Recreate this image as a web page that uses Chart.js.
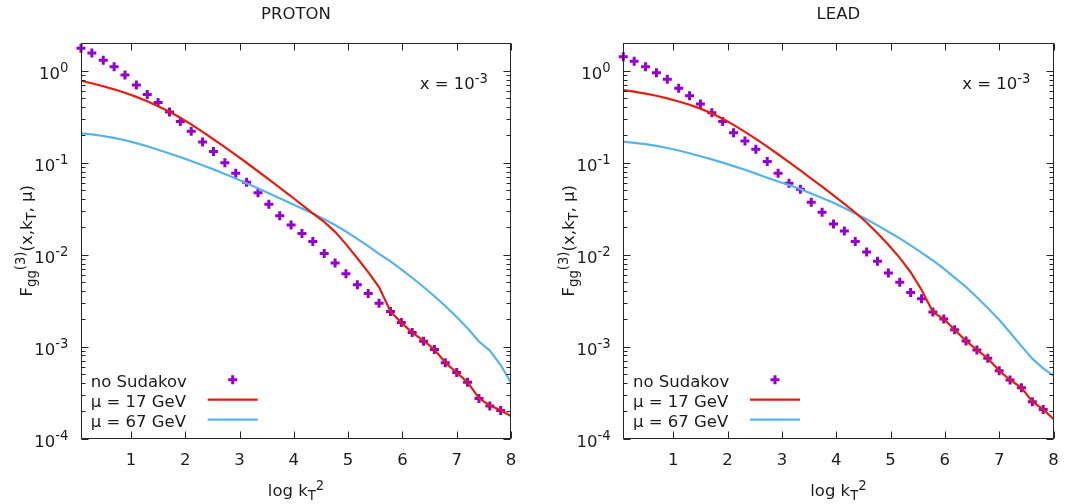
<!DOCTYPE html>
<html><head><meta charset="utf-8">
<script src="https://cdn.jsdelivr.net/npm/chart.js@4.4.1/dist/chart.umd.min.js"></script>
<style>
html,body{margin:0;padding:0;background:#fff;width:1065px;height:504px;overflow:hidden}
.wrap{position:absolute;top:0;height:504px}
canvas{display:block}
</style></head><body>
<div class="wrap" style="left:0;width:532px"><canvas id="c1" width="532" height="504"></canvas></div>
<div class="wrap" style="left:532px;width:533px"><canvas id="c2" width="533" height="504"></canvas></div>
<script>
// log kT^2 grid of the points
const kt = [0.08,0.28,0.49,0.69,0.89,1.10,1.30,1.50,1.71,1.91,2.11,2.32,2.52,2.73,2.93,3.13,3.34,3.54,3.74,3.95,4.15,4.35,4.56,4.76,4.96,5.17,5.37,5.57,5.78,5.98,6.18,6.39,6.59,6.79,7.00,7.20,7.41,7.61,7.81];
const lineKt = kt.concat([8.0]);
const xTicks = [1,2,3,4,5,6,7,8];
const yDecades = [-4,-3,-2,-1,0];
const titles = ['PROTON','LEAD'];
const seriesLabels = ['no Sudakov','\u03bc = 17 GeV','\u03bc = 67 GeV'];

// PROTON
const protonNoSud = [1.75,1.56,1.30,1.10,0.895,0.70,0.55,0.45,0.356,0.28,0.22,0.168,0.132,0.10,0.0766,0.0612,0.047,0.0352,0.0264,0.021,0.017,0.0139,0.0103,0.0081,0.0062,0.0047,0.00377,0.00295,0.00241,0.00183,0.00142,0.00114,0.00093,0.000666,0.000522,0.000408,0.000272,0.000226,0.000202];
const protonMu17 = [0.778,0.729,0.678,0.627,0.575,0.519,0.465,0.4115,0.3576,0.3073,0.2603,0.2161,0.1797,0.1474,0.1215,0.0997,0.0806,0.0657,0.0534,0.0431,0.0348,0.0281,0.02265,0.01766,0.0130,0.00912,0.00646,0.00444,0.00241,0.00182,0.00142,0.00116,0.00093,0.00067,0.00052,0.00041,0.000275,0.000228,0.000203,0.000176];
const protonMu67 = [0.2084,0.2028,0.195,0.1858,0.175,0.1628,0.1506,0.1382,0.1258,0.1147,0.1041,0.0937,0.0845,0.0754,0.0673,0.0598,0.0527,0.0466,0.041,0.0359,0.0317,0.02797,0.0243,0.021,0.01785,0.01485,0.01235,0.01018,0.00842,0.0069,0.0056,0.00444,0.00352,0.00276,0.0021,0.00158,0.001135,0.000904,0.00063,0.000405];

// LEAD
const leadNoSud = [1.42,1.27,1.105,0.951,0.805,0.643,0.535,0.434,0.349,0.281,0.212,0.172,0.14,0.103,0.0766,0.0596,0.0513,0.037,0.0289,0.0215,0.018,0.0139,0.0107,0.00846,0.0063,0.00499,0.00388,0.00331,0.00237,0.00199,0.00152,0.00115,0.00092,0.000747,0.000547,0.000433,0.000357,0.000251,0.000207];
const leadMu17 = [0.617,0.5916,0.5636,0.5333,0.5,0.4627,0.4259,0.3867,0.3427,0.2998,0.2575,0.2164,0.1813,0.1494,0.1234,0.1015,0.0822,0.0671,0.0547,0.044,0.0357,0.0287,0.02236,0.0171,0.0128,0.00921,0.00643,0.00415,0.00237,0.00199,0.00152,0.00115,0.00092,0.000747,0.000547,0.000433,0.000357,0.000251,0.000207,0.000163];
const leadMu67 = [0.169,0.1644,0.1589,0.152,0.1442,0.1355,0.1265,0.1175,0.1086,0.1,0.0916,0.0836,0.0759,0.0685,0.0624,0.0571,0.0515,0.0462,0.0413,0.0367,0.0321,0.028,0.0242,0.0208,0.01774,0.01503,0.01262,0.0105,0.00863,0.00702,0.00562,0.00444,0.00344,0.00262,0.00196,0.00142,0.00101,0.000738,0.00058,0.000482];

const FAM = '"DejaVu Sans", sans-serif';
const FS = 16.5;
const TXT = '#1c1c1c';
const COLORS = ['#9400d3','#e51e10','#56b4e9'];

function rich(ctx, parts, x, y, align) {
  let w = 0;
  parts.forEach(p => {
    const s = (p.sub || p.sup) ? FS * 0.8 : FS;
    ctx.font = s + 'px ' + FAM;
    p.w = ctx.measureText(p.t).width;
    w += p.w;
  });
  let cx = align === 'center' ? x - w / 2 : (align === 'right' ? x - w : x);
  ctx.textAlign = 'left';
  ctx.textBaseline = 'alphabetic';
  parts.forEach(p => {
    const s = (p.sub || p.sup) ? FS * 0.8 : FS;
    ctx.font = s + 'px ' + FAM;
    const dy = p.sub ? FS * 0.25 : (p.sup ? -FS * 0.38 : 0);
    ctx.fillText(p.t, cx, y + dy);
    cx += p.w;
  });
}

const decor = {
  id: 'decor',
  afterDraw(chart) {
    const {ctx, chartArea: a, scales: {x, y}} = chart;
    const title = chart.options.plugins.decor.title;
    ctx.save();
    ctx.fillStyle = TXT;
    ctx.strokeStyle = '#262626';
    ctx.lineWidth = 1;
    // frame
    const L = Math.round(a.left) + 0.5, R = Math.round(a.right) - 0.5;
    const T = Math.round(a.top) + 0.5, B = Math.round(a.bottom) - 0.5;
    ctx.strokeRect(L, T, R - L, B - T);
    // x ticks
    ctx.beginPath();
    xTicks.forEach(v => {
      const px = Math.round(x.getPixelForValue(v)) + 0.5;
      ctx.moveTo(px, B); ctx.lineTo(px, B - 7);
      ctx.moveTo(px, T); ctx.lineTo(px, T + 7);
    });
    // y ticks (major + minor)
    yDecades.forEach(e => {
      for (let m = 1; m <= 9; m++) {
        const v = m * Math.pow(10, e);
        if (v > 2.0001) break;
        const py = Math.round(y.getPixelForValue(v)) + 0.5;
        const len = m === 1 ? 7 : 4;
        ctx.moveTo(L, py); ctx.lineTo(L + len, py);
        ctx.moveTo(R, py); ctx.lineTo(R - len, py);
      }
    });
    ctx.stroke();
    // y tick labels
    yDecades.forEach(e => {
      const py = y.getPixelForValue(Math.pow(10, e));
      rich(ctx, [{t: '10'}, {t: String(e), sup: true}], a.left - 12.7, py + 8, 'right');
    });
    // x tick labels
    xTicks.forEach(v => {
      rich(ctx, [{t: String(v)}], x.getPixelForValue(v), a.bottom + 26.7, 'center');
    });
    const cxm = (a.left + a.right) / 2;
    // title
    rich(ctx, [{t: title}], cxm, 19, 'center');
    // x axis title
    rich(ctx, [{t: 'log k'}, {t: 'T', sub: true}, {t: '2', sup: true}], cxm, a.bottom + 57.5, 'center');
    // y axis title
    ctx.save();
    ctx.translate(a.left - 49.3, (a.top + a.bottom) / 2);
    ctx.rotate(-Math.PI / 2);
    rich(ctx, [{t: 'F'}, {t: 'gg', sub: true}, {t: '(3)', sup: true}, {t: '(x,k'}, {t: 'T', sub: true}, {t: ', \u03bc)'}], 0, 0, 'center');
    ctx.restore();
    // annotation
    rich(ctx, [{t: 'x = 10'}, {t: '-3', sup: true}], a.right - 23, a.top + 46.3, 'right');
    // legend
    chart.data.datasets.forEach((ds, i) => {
      const base = a.bottom - 52 + 20 * i;
      ctx.fillStyle = TXT;
      rich(ctx, [{t: ds.label}], a.left + 9.7, base, 'left');
      const sy = base - 6.8;
      if (i === 0) {
        ctx.strokeStyle = COLORS[0];
        ctx.lineWidth = 3;
        const cx = a.left + 151.7, r = 4.5;
        ctx.beginPath();
        ctx.moveTo(cx - r, sy); ctx.lineTo(cx + r, sy);
        ctx.moveTo(cx, sy - r); ctx.lineTo(cx, sy + r);
        ctx.stroke();
      } else {
        ctx.strokeStyle = COLORS[i];
        ctx.lineWidth = 2.2;
        ctx.beginPath();
        ctx.moveTo(a.left + 126.7, sy); ctx.lineTo(a.left + 176.7, sy);
        ctx.stroke();
      }
    });
    ctx.restore();
  }
};

function makeChart(id, title, noSud, mu17, mu67, padL, padR) {
  return new Chart(document.getElementById(id), {
    type: 'scatter',
    data: {
      datasets: [
        {label: seriesLabels[0], data: kt.map((v, i) => ({x: v, y: noSud[i]})), showLine: false,
         pointStyle: 'cross', pointRadius: 4.5, pointBorderWidth: 3, pointBorderColor: COLORS[0],
         pointBackgroundColor: COLORS[0], borderColor: COLORS[0], clip: false, order: 3},
        {label: seriesLabels[1], data: lineKt.map((v, i) => ({x: v, y: mu17[i]})), showLine: true,
         borderColor: COLORS[1], borderWidth: 2.2, pointRadius: 0, tension: 0, order: 1},
        {label: seriesLabels[2], data: lineKt.map((v, i) => ({x: v, y: mu67[i]})), showLine: true,
         borderColor: COLORS[2], borderWidth: 2.2, pointRadius: 0, tension: 0, order: 2}
      ]
    },
    options: {
      responsive: false,
      animation: false,
      events: [],
      layout: {padding: {left: padL, right: padR, top: 43, bottom: 65.5}},
      scales: {
        x: {type: 'linear', min: 0.08, max: 8, display: false},
        y: {type: 'logarithmic', min: 1e-4, max: 2, display: false}
      },
      plugins: {legend: {display: false}, tooltip: {enabled: false}, decor: {title: title}}
    },
    plugins: [decor]
  });
}

makeChart('c1', titles[0], protonNoSud, protonMu17, protonMu67, 81, 21);
makeChart('c2', titles[1], leadNoSud, leadMu17, leadMu67, 91.3, 11.5);
</script>
</body></html>
